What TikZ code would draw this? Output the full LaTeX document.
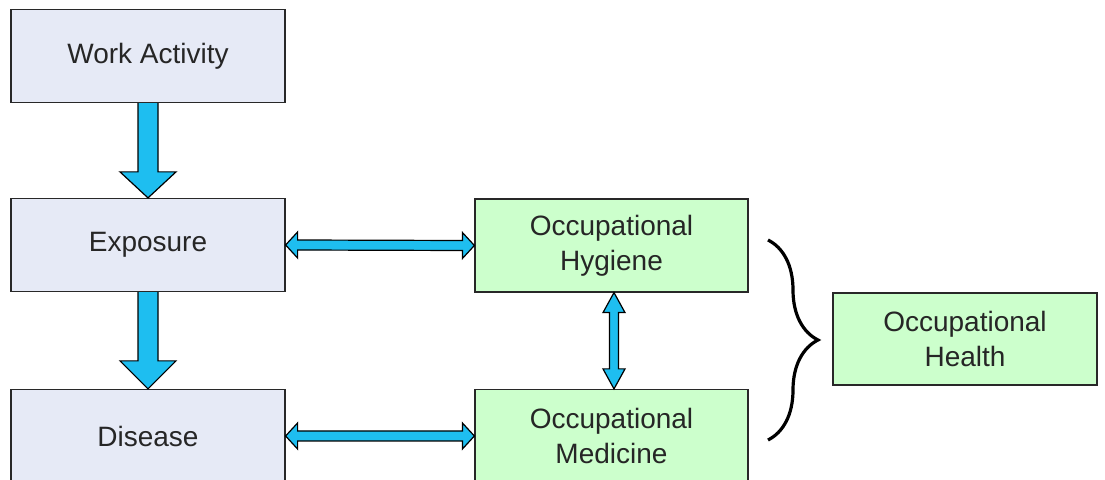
\documentclass[tikz,border=0pt]{standalone}
\usepackage{fontspec}
\setmainfont{Liberation Sans}
\usetikzlibrary{calc,decorations.pathreplacing}
\definecolor{boxblue}{RGB}{230,234,246}
\definecolor{boxgreen}{RGB}{204,255,204}
\definecolor{arrowblue}{RGB}{30,190,240}
\definecolor{edge}{RGB}{40,40,40}
\tikzset{
  bluebox/.style={draw=edge, line width=1.2pt, fill=boxblue, minimum width=274pt, minimum height=93pt, inner sep=0pt, font=\fontsize{28}{35}\selectfont, text=black!85, align=center},
  greenbox/.style={draw=edge, line width=1.2pt, fill=boxgreen, minimum width=273pt, minimum height=93pt, inner sep=0pt, font=\fontsize{28}{35}\selectfont, text=black!85, align=center},
  blockarrow/.style={fill=arrowblue, draw=black, line width=1.2pt, line join=miter},
}
\begin{document}
\begin{tikzpicture}[x=1pt,y=1pt]
\useasboundingbox (0,0) rectangle (1105,479);
\fill[white] (0,0) rectangle (1105,479);
\clip (0,0) rectangle (1105,479);
\node[bluebox] (wa) at (148,423) {Work Activity};
\node[bluebox] (ex) at (148,234) {Exposure};
\node[bluebox] (di) at (148,43) {Disease};
\node[greenbox] (oh) at (611.5,233.5) {Occupational\\Hygiene};
\node[greenbox] (om) at (611.5,43) {Occupational\\Medicine};
\node[greenbox, minimum width=264pt, minimum height=92pt] (ohe) at (965,140) {Occupational\\Health};
% down block arrows
\draw[blockarrow] ($(wa.south)+(-10,0)$) -- ($(ex.north)+(-10,26)$) -- ($(ex.north)+(-28,26)$) -- (ex.north) -- ($(ex.north)+(28,26)$) -- ($(ex.north)+(10,26)$) -- ($(wa.south)+(10,0)$);
\draw[blockarrow] ($(ex.south)+(-10,0)$) -- ($(di.north)+(-10,28)$) -- ($(di.north)+(-28,28)$) -- (di.north) -- ($(di.north)+(28,28)$) -- ($(di.north)+(10,28)$) -- ($(ex.south)+(10,0)$);
% horizontal double arrows
\draw[blockarrow] (ex.east) -- ++(12,13) -- ++(0,-8) -- ($(oh.west)+(-12,5)$) -- ++(0,8) -- (oh.west) -- ++(-12,-13) -- ++(0,8) -- ($(ex.east)+(12,-5)$) -- ++(0,-8) -- cycle;
\draw[blockarrow] (di.east) -- ++(12,13) -- ++(0,-8) -- ($(om.west)+(-12,5)$) -- ++(0,8) -- (om.west) -- ++(-12,-13) -- ++(0,8) -- ($(di.east)+(12,-5)$) -- ++(0,-8) -- cycle;
% vertical double arrow
\coordinate (vt) at ($(oh.south)+(2.5,0)$);
\coordinate (vb) at ($(om.north)+(2.5,0)$);
\draw[blockarrow] (vt) -- ++(11,-20) -- ++(-6.5,0) -- ($(vb)+(4.5,20)$) -- ++(6.5,0) -- (vb) -- ++(-11,20) -- ++(6.5,0) -- ($(vt)+(-4.5,-20)$) -- ++(-6.5,0) -- cycle;
% brace
\coordinate (bt) at (768,239);
\coordinate (bb) at (768,39);
\draw[line width=3.2pt, decorate, decoration={brace, amplitude=50pt, aspect=0.5}] (bt) -- (bb);
\end{tikzpicture}
\end{document}
